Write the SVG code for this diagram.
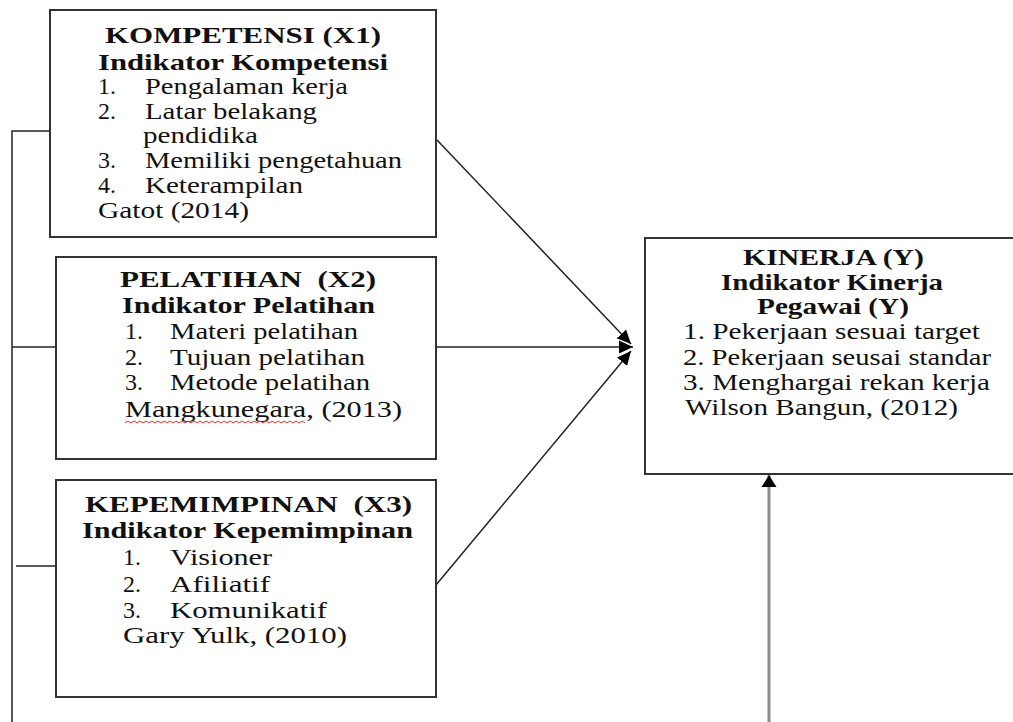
<svg xmlns="http://www.w3.org/2000/svg" width="1013" height="722" viewBox="0 0 1013 722">
<style>
.box{fill:#fff;stroke:#333;stroke-width:2}
.t{font-family:"Liberation Serif","Times New Roman",serif;font-size:24px;fill:#111;white-space:pre}
.b{font-weight:bold}
.ln{stroke:#222;stroke-width:1.5;fill:none}
.gr{stroke:#8c8c8c;stroke-width:3;fill:none}
</style>
<defs>
<marker id="ah" markerUnits="userSpaceOnUse" markerWidth="16" markerHeight="14" refX="14" refY="7" orient="auto">
<path d="M0,0.5 L14,7 L0,13.5 Z" fill="#000"/>
</marker>
<marker id="ahu" markerUnits="userSpaceOnUse" markerWidth="16" markerHeight="16" refX="12" refY="8" orient="auto">
<path d="M0,0.5 L12,8 L0,15.5 Z" fill="#000"/>
</marker>
</defs>
<rect width="1013" height="722" fill="#fff"/>

<g id="connectors">
<polyline class="ln" points="12,722 12,131 60,131"/>
<line class="ln" x1="12" y1="347" x2="62" y2="347"/>
<line class="ln" x1="16" y1="566" x2="62" y2="566"/>
<line class="ln" x1="437" y1="140" x2="631" y2="344" marker-end="url(#ah)"/>
<line class="ln" x1="436" y1="347" x2="633" y2="347" marker-end="url(#ah)"/>
<line class="ln" x1="436" y1="585" x2="631" y2="351" marker-end="url(#ah)"/>
<line class="gr" x1="769" y1="722" x2="769" y2="475" marker-end="url(#ahu)"/>
</g>

<g id="node-x1">
<rect class="box" x="50" y="10" width="386" height="227"/>
<text class="t b" x="105" y="43" textLength="276" lengthAdjust="spacingAndGlyphs">KOMPETENSI (X1)</text>
<text class="t b" x="98" y="70" textLength="290" lengthAdjust="spacingAndGlyphs">Indikator Kompetensi</text>
<text class="t" x="98" y="94">1.</text>
<text class="t" x="145" y="94" textLength="203" lengthAdjust="spacingAndGlyphs">Pengalaman kerja</text>
<text class="t" x="98" y="119">2.</text>
<text class="t" x="145" y="119" textLength="172" lengthAdjust="spacingAndGlyphs">Latar belakang</text>
<text class="t" x="143" y="143" textLength="115" lengthAdjust="spacingAndGlyphs">pendidika</text>
<text class="t" x="98" y="168">3.</text>
<text class="t" x="145" y="168" textLength="257" lengthAdjust="spacingAndGlyphs">Memiliki pengetahuan</text>
<text class="t" x="98" y="193">4.</text>
<text class="t" x="145" y="193" textLength="158" lengthAdjust="spacingAndGlyphs">Keterampilan</text>
<text class="t" x="98" y="218" textLength="151" lengthAdjust="spacingAndGlyphs">Gatot (2014)</text>
</g>

<g id="node-x2">
<rect class="box" x="56" y="257" width="380" height="202"/>
<text class="t b" x="120" y="287" textLength="256" lengthAdjust="spacingAndGlyphs">PELATIHAN  (X2)</text>
<text class="t b" x="122" y="313" textLength="253" lengthAdjust="spacingAndGlyphs">Indikator Pelatihan</text>
<text class="t" x="125" y="339">1.</text>
<text class="t" x="170" y="339" textLength="188" lengthAdjust="spacingAndGlyphs">Materi pelatihan</text>
<text class="t" x="125" y="365">2.</text>
<text class="t" x="170" y="365" textLength="195" lengthAdjust="spacingAndGlyphs">Tujuan pelatihan</text>
<text class="t" x="125" y="390">3.</text>
<text class="t" x="170" y="390" textLength="200" lengthAdjust="spacingAndGlyphs">Metode pelatihan</text>
<text class="t" x="125" y="417" textLength="277" lengthAdjust="spacingAndGlyphs">Mangkunegara, (2013)</text>
<path d="M125,423 l3,-2 l3,2 l3,-2 l3,2 l3,-2 l3,2 l3,-2 l3,2 l3,-2 l3,2 l3,-2 l3,2 l3,-2 l3,2 l3,-2 l3,2 l3,-2 l3,2 l3,-2 l3,2 l3,-2 l3,2 l3,-2 l3,2 l3,-2 l3,2 l3,-2 l3,2 l3,-2 l3,2 l3,-2 l3,2 l3,-2 l3,2 l3,-2 l3,2 l3,-2 l3,2 l3,-2 l3,2 l3,-2 l3,2 l3,-2 l3,2 l3,-2 l3,2 l3,-2 l3,2 l3,-2 l3,2 l3,-2 l3,2 l3,-2 l3,2 l3,-2 l3,2 l3,-2 l3,2 l3,-2 l3,2" fill="none" stroke="#e03030" stroke-width="1"/>
</g>

<g id="node-x3">
<rect class="box" x="56" y="480" width="380" height="217"/>
<text class="t b" x="85" y="512" textLength="327" lengthAdjust="spacingAndGlyphs">KEPEMIMPINAN  (X3)</text>
<text class="t b" x="82" y="538" textLength="331" lengthAdjust="spacingAndGlyphs">Indikator Kepemimpinan</text>
<text class="t" x="123" y="565">1.</text>
<text class="t" x="170" y="565" textLength="102" lengthAdjust="spacingAndGlyphs">Visioner</text>
<text class="t" x="123" y="592">2.</text>
<text class="t" x="170" y="592" textLength="100" lengthAdjust="spacingAndGlyphs">Afiliatif</text>
<text class="t" x="123" y="618">3.</text>
<text class="t" x="170" y="618" textLength="157" lengthAdjust="spacingAndGlyphs">Komunikatif</text>
<text class="t" x="123" y="643" textLength="224" lengthAdjust="spacingAndGlyphs">Gary Yulk, (2010)</text>
</g>

<g id="node-y">
<rect class="box" x="645" y="238" width="380" height="236"/>
<text class="t b" x="743" y="265" textLength="181" lengthAdjust="spacingAndGlyphs">KINERJA (Y)</text>
<text class="t b" x="721" y="290" textLength="222" lengthAdjust="spacingAndGlyphs">Indikator Kinerja</text>
<text class="t b" x="757" y="314" textLength="152" lengthAdjust="spacingAndGlyphs">Pegawai (Y)</text>
<text class="t" x="683" y="339" textLength="297" lengthAdjust="spacingAndGlyphs">1. Pekerjaan sesuai target</text>
<text class="t" x="683" y="365" textLength="308" lengthAdjust="spacingAndGlyphs">2. Pekerjaan seusai standar</text>
<text class="t" x="683" y="390" textLength="307" lengthAdjust="spacingAndGlyphs">3. Menghargai rekan kerja</text>
<text class="t" x="685" y="415" textLength="273" lengthAdjust="spacingAndGlyphs">Wilson Bangun, (2012)</text>
</g>
</svg>
